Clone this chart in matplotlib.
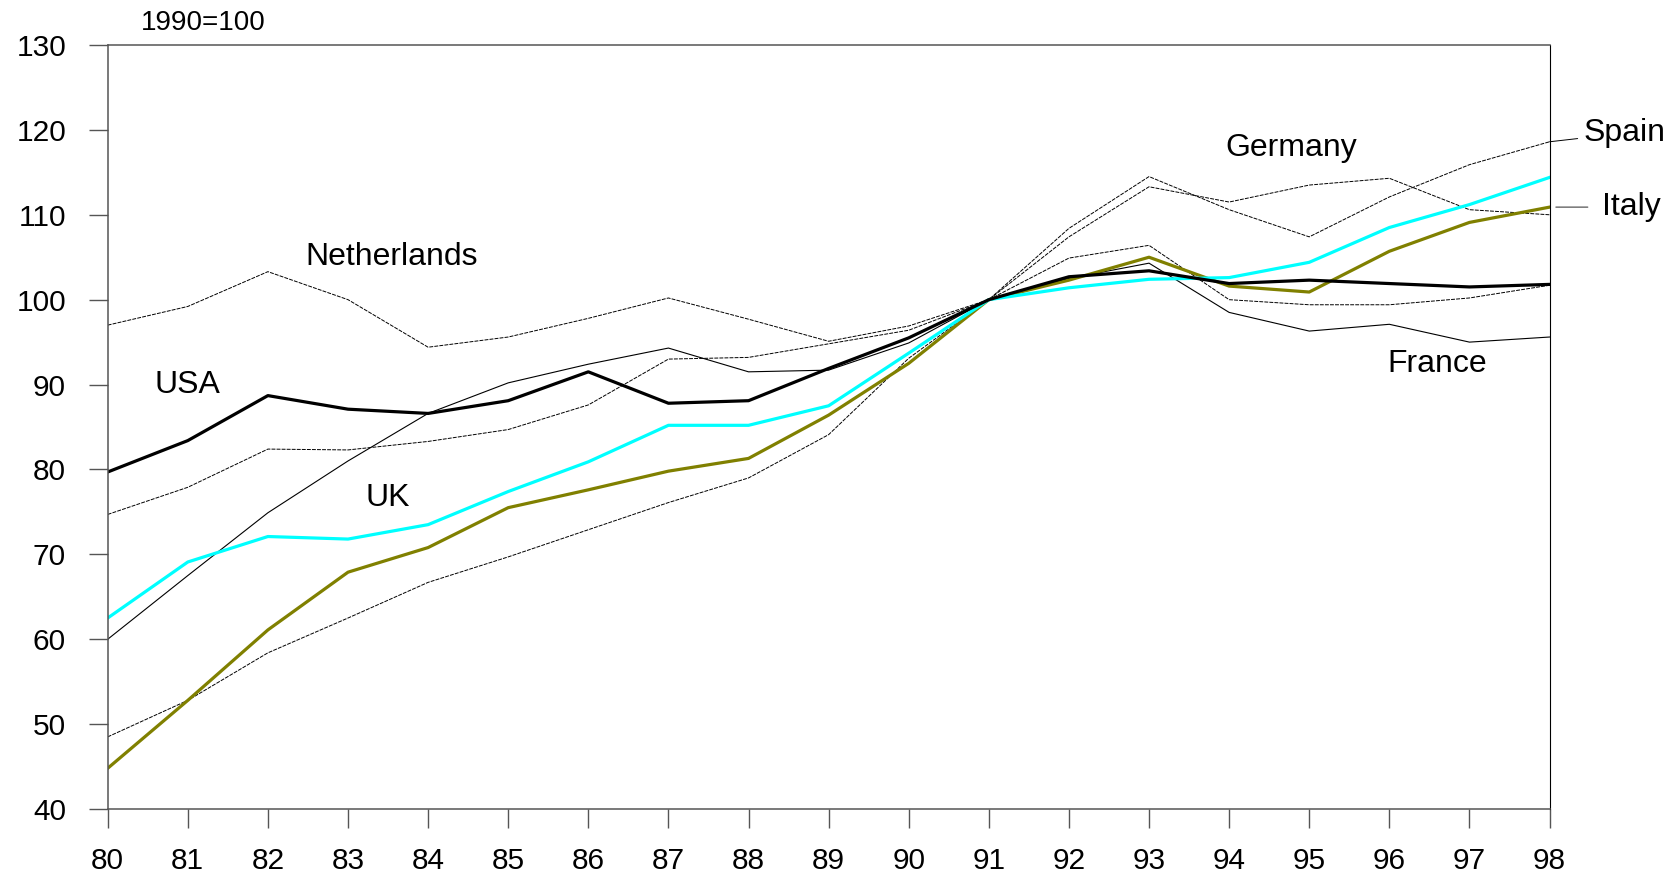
import matplotlib
matplotlib.use("Agg")
import matplotlib.pyplot as plt

plt.rcParams['font.family'] = ['Liberation Sans', 'DejaVu Sans']

years = ['80', '81', '82', '83', '84', '85', '86', '87', '88', '89',
         '90', '91', '92', '93', '94', '95', '96', '97', '98']

usa = [79.7, 83.4, 88.7, 87.1, 86.6, 88.1, 91.5, 87.8, 88.1, 91.9,
       95.5, 100.0, 102.7, 103.4, 101.9, 102.3, 101.9, 101.5, 101.8]
uk = [62.5, 69.1, 72.1, 71.8, 73.5, 77.4, 80.9, 85.2, 85.2, 87.5,
      93.7, 100.0, 101.4, 102.4, 102.6, 104.4, 108.5, 111.2, 114.4]
italy = [44.8, 52.8, 61.1, 67.9, 70.8, 75.5, 77.6, 79.8, 81.3, 86.4,
         92.5, 100.0, 102.3, 105.0, 101.6, 100.9, 105.7, 109.1, 110.9]
netherlands = [97.0, 99.2, 103.3, 100.0, 94.4, 95.6, 97.8, 100.2, 97.7, 95.1,
               96.9, 100.0, 104.9, 106.4, 100.0, 99.4, 99.4, 100.2, 101.7]
germany = [74.7, 77.9, 82.4, 82.3, 83.3, 84.7, 87.6, 93.0, 93.2, 94.8,
           96.4, 100.0, 107.4, 113.3, 111.5, 113.5, 114.3, 110.6, 110.0]
france = [60.0, 67.5, 74.9, 81.0, 86.6, 90.2, 92.4, 94.3, 91.5, 91.7,
          94.9, 100.0, 102.5, 104.3, 98.5, 96.3, 97.1, 95.0, 95.6]
spain = [48.5, 52.8, 58.4, 62.5, 66.7, 69.7, 72.9, 76.1, 79.0, 84.1,
         93.1, 100.0, 108.4, 114.5, 110.6, 107.4, 112.1, 115.9, 118.6]

yticks = [40, 50, 60, 70, 80, 90, 100, 110, 120, 130]

fig = plt.figure(figsize=(16.75, 8.77), dpi=100)
ax = fig.add_axes([0.0643, 0.0775, 0.8608, 0.8712])

x = list(range(len(years)))
thin_dash = dict(color='black', lw=0.7, dashes=(4, 1.2))
ax.plot(x, netherlands, **thin_dash)
ax.plot(x, germany, **thin_dash)
ax.plot(x, spain, **thin_dash)
ax.plot(x, france, color='black', lw=0.8)
ax.plot(x, italy, color='#808000', lw=2.3)
ax.plot(x, uk, color='#00FFFF', lw=2.3)
ax.plot(x, usa, color='black', lw=2.3)

ax.set_xlim(0, len(years) - 1)
ax.set_ylim(40, 130)
ax.set_xticks(x)
ax.set_xticklabels(years)
ax.set_yticks(yticks)
ax.tick_params(axis='both', direction='out', length=14, width=1.0,
               color='#555555', labelsize=21.5)
ax.tick_params(axis='x', pad=13)
ax.tick_params(axis='y', pad=16)
for s in ['left', 'bottom', 'top']:
    ax.spines[s].set_color('#555555')
    ax.spines[s].set_linewidth(1.1)
ax.spines['right'].set_color('black')
ax.spines['right'].set_linewidth(0.8)

fs = 23
ax.text(0.42, 132.6, '1990=100', fontsize=20, ha='left', va='center', clip_on=False)
ax.text(3.55, 105.0, 'Netherlands', fontsize=fs, ha='center', va='center')
ax.text(1.0, 90.0, 'USA', fontsize=fs, ha='center', va='center')
ax.text(3.5, 76.6, 'UK', fontsize=fs, ha='center', va='center')
ax.text(14.77, 117.9, 'Germany', fontsize=fs, ha='center', va='center')
ax.text(16.6, 92.4, 'France', fontsize=fs, ha='center', va='center')

ax.annotate('Spain', xy=(18, 118.6), xytext=(18.42, 119.6), fontsize=fs,
            ha='left', va='center', annotation_clip=False,
            arrowprops=dict(arrowstyle='-', color='black', lw=0.7,
                            shrinkA=2, shrinkB=0))
ax.annotate('Italy', xy=(18.08, 110.9), xytext=(18.65, 110.9), fontsize=fs,
            ha='left', va='center', annotation_clip=False,
            arrowprops=dict(arrowstyle='-', color='#666666', lw=1.0,
                            shrinkA=8, shrinkB=0))

fig.savefig('out.png', dpi=100)
